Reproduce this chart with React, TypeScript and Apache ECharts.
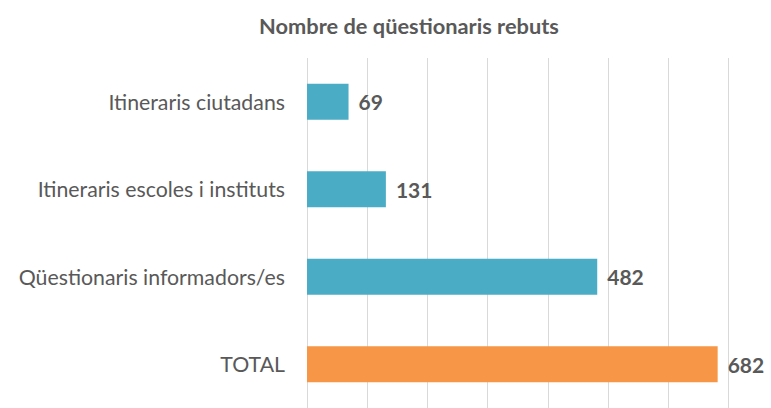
import React, { useEffect, useRef } from "react";
import * as echarts from "echarts";

const categories = [
  "Itineraris ciutadans",
  "Itineraris escoles i instituts",
  "Qüestionaris informadors/es",
  "TOTAL",
];
const values = [69, 131, 482, 682];
const barColors = ["#4BACC6", "#4BACC6", "#4BACC6", "#F79646"];
const chartTitle = "Nombre de qüestionaris rebuts";

export default function App() {
  const ref = useRef<HTMLDivElement>(null);
  useEffect(() => {
    if (!ref.current) return;
    const chart = echarts.init(ref.current, null, { renderer: "svg" });
    const font = "Lato, 'Liberation Sans', sans-serif";
    chart.setOption({
      animation: false,
      backgroundColor: "#ffffff",
      title: {
        text: chartTitle,
        left: 404,
        textAlign: "center",
        top: 9,
        textStyle: { fontFamily: font, fontSize: 21.8, fontWeight: "bold", color: "#595959" },
      },
      grid: { left: 307, top: 58, width: 421.5, height: 355, containLabel: false },
      xAxis: {
        type: "value",
        min: 0,
        max: 700,
        interval: 100,
        axisLabel: { show: false },
        axisLine: { show: false },
        axisTick: { show: false },
        splitLine: { show: true, lineStyle: { color: "#D9D9D9", width: 1 } },
      },
      yAxis: {
        type: "category",
        inverse: true,
        data: categories,
        axisLine: { show: false },
        axisTick: { show: false },
        axisLabel: { margin: 22, fontFamily: font, fontSize: 21.3, color: "#595959" },
      },
      series: [
        {
          type: "bar",
          barWidth: 36,
          data: values.map((v, i) => ({
            value: v,
            itemStyle: { color: barColors[i] },
          })),
          label: {
            show: true,
            position: "right",
            distance: 10,
            fontFamily: font,
            fontSize: 21,
            fontWeight: "bold",
            color: "#595959",
          },
        },
      ],
    });
    return () => chart.dispose();
  }, []);
  return <div ref={ref} style={{ width: 771, height: 408, position: "absolute", left: 0, top: 0 }} />;
}
